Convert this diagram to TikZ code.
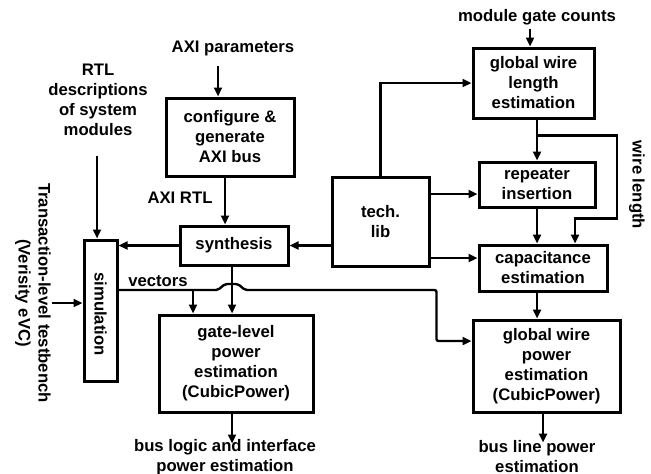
\documentclass[tikz,border=0pt]{standalone}
\usepackage{fontspec}
\setmainfont{Liberation Sans}
\usetikzlibrary{calc,arrows.meta}
\begin{document}
\begin{tikzpicture}[x=1pt,y=-1pt,
  every node/.style={font=\fontsize{16.7}{20}\selectfont\bfseries, align=center, inner sep=0pt},
  box/.style={draw, line width=3pt},
  ln/.style={line width=2.4pt},
  arr/.style={line width=2.4pt, -{Triangle[length=9pt,width=8pt]}}]
\useasboundingbox (0,0) rectangle (651,474);
% nodes
\node (axip) at (233,48) {AXI parameters};
\node (rtl) at (98,100) {RTL\\descriptions\\of system\\modules};
\node[box, minimum width=128pt, minimum height=78pt] (config) at (230,137) {configure \&\\generate\\AXI bus};
\node (axirtl) at (180,198) {AXI RTL};
\node[box, minimum width=108pt, minimum height=39pt] (synth) at (234,245.5) {synthesis};
\node[box, minimum width=33pt, minimum height=141pt] (sim) at (100.5,310.5) {};
\node[rotate=-90] (simt) at (100.5,314) {simulation};
\node[box, minimum width=97pt, minimum height=89pt] (tech) at (380.5,221.5) {tech.\\lib};
\node (mgc) at (537,17) {module gate counts};
\node[box, minimum width=121pt, minimum height=70pt] (gwl) at (533.5,83) {global wire\\length\\estimation};
\node[box, minimum width=116pt, minimum height=45pt] (rep) at (537,184.5) {repeater\\insertion};
\node[box, minimum width=128pt, minimum height=46pt] (cap) at (543,268) {capacitance\\estimation};
\node[box, minimum width=147pt, minimum height=92pt] (gwp) at (546.5,366) {global wire\\power\\estimation\\(CubicPower)};
\node[box, minimum width=154pt, minimum height=97pt] (gate) at (236,363.5) {gate-level\\power\\estimation\\(CubicPower)};
\node (out1) at (225,457) {bus logic and interface\\power estimation};
\node (out2) at (537,457) {bus line power\\estimation};
\node[rotate=-90] (wl) at (637,185) {wire length};
\node[rotate=-90] (tb) at (33,293) {Transaction-level testbench\\(Verisity eVC)};
\node (vec) at (158,281) {vectors};
% connectors
\draw[arr] ($(config.north)+(-12,-31)$) -- ($(config.north)+(-12,0)$);
\draw[arr] ($(config.south)+(-5,0)$) -- ($(synth.north)+(-9,0)$);
\draw[arr] ($(sim.north)+(-3.5,-83)$) -- ($(sim.north)+(-3.5,0)$);
\draw[arr] (synth.west) -- (sim.east |- synth.west);
\draw[arr] (tech.west |- synth.east) -- (synth.east);
\draw[arr] (tech.north) |- (gwl.west);
\coordinate (r1) at ($(rep.west)+(0,9.5)$);
\draw[arr] (tech.east |- r1) -- (r1);
\coordinate (c1) at ($(cap.west)+(0,-10)$);
\draw[arr] (tech.east |- c1) -- (c1);
\draw[arr] ($(gwl.north)+(-3.5,-18)$) -- ($(gwl.north)+(-3.5,0)$);
\draw[arr] (rep.north |- gwl.south) -- (rep.north);
\draw[arr] ($(rep.north)+(0,-25)$) -- ++(80,0) -- ++(0,83) -- ($(cap.north)+(32,-25)$) -- ($(cap.north)+(32,0)$);
\draw[arr] (rep.south) -- (rep.south |- cap.north);
\draw[arr] (rep.south |- cap.south) -- (rep.south |- gwp.north);
\draw[arr] ($(gwp.south)+(-3.5,0)$) -- ($(gwp.south)+(-3.5,29)$);
\coordinate (s1) at ($(synth.south)+(-2,0)$);
\draw[arr] (s1) -- (s1 |- gate.north);
\draw[arr] (s1 |- gate.south) -- ($(s1 |- gate.south)+(0,30)$);
% vectors line with hop
\coordinate (v0) at ($(sim.east)+(0,-20.5)$);
\coordinate (vh) at (v0 -| s1);
\coordinate (g1) at ($(gwp.west)+(0,-25)$);
\coordinate (v1) at ($(v0)+(318,0)$);
\draw[arr, rounded corners=2pt] (v0) -- ($(vh)+(-14,0)$) -- ($(vh)+(-7,-6)$) -- ($(vh)+(6,-6)$) -- ($(vh)+(13,0)$) -- (v1) -- (v1 |- g1) -- (g1);
\coordinate (v2) at ($(gate.north)+(-43,0)$);
\draw[arr] (v0 -| v2) -- (v2);
\draw[arr] ($(sim.west)+(-31,-7.5)$) -- ($(sim.west)+(0,-7.5)$);
\end{tikzpicture}
\end{document}
